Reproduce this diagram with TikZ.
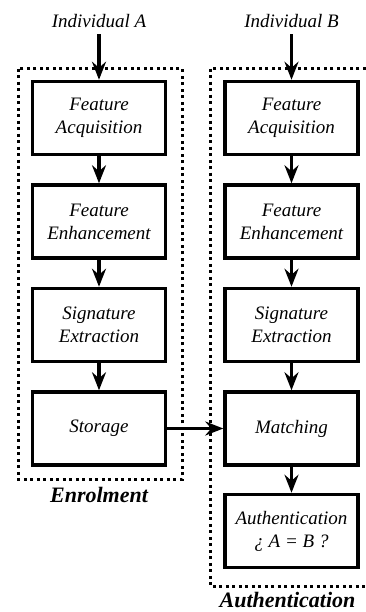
\documentclass[tikz,border=0pt]{standalone}
\usepackage{fontspec}
\setmainfont{Liberation Serif}
\newfontfamily\serfont{LiberationSerif}[Extension=.ttf, UprightFont=*-Regular,
  ItalicFont=*-Italic, BoldFont=*-Bold, BoldItalicFont=*-BoldItalic]
\usetikzlibrary{arrows.meta, positioning, calc}

\begin{document}
\begin{tikzpicture}[
      node distance=27pt,
      stage/.style={draw, line width=3.5pt, minimum width=133pt,
                    minimum height=73pt, align=center,
                    font=\fontsize{19}{23}\selectfont\serfont\itshape, inner sep=2pt},
      who/.style={font=\fontsize{19}{23}\selectfont\serfont\itshape, anchor=base,
                  inner xsep=0pt, inner ysep=6pt},
      phase/.style={font=\fontsize{22}{26}\selectfont\serfont\bfseries\itshape,
                    anchor=base, inner sep=0pt},
      dotbox/.style={line width=3pt, dash pattern=on 3pt off 3.5pt},
      arr/.style={-{Stealth[length=18pt, width=14pt, inset=6pt]}, line width=3.5pt}
    ]
      \useasboundingbox (0,0) rectangle (365pt,-612pt);

      % enrolment column
      \node[who] (indA) at (99pt,-28pt) {Individual A};
      \node[stage] (acq1) at (99pt,-118pt) {Feature\\Acquisition};
      \node[stage, below=of acq1] (enh1) {Feature\\Enhancement};
      \node[stage, below=of enh1] (sig1) {Signature\\Extraction};
      \node[stage, below=of sig1] (sto1) {Storage};

      % authentication column
      \node[who] (indB) at (291.5pt,-28pt) {Individual B};
      \node[stage] (acq2) at (291.5pt,-118pt) {Feature\\Acquisition};
      \node[stage, below=of acq2] (enh2) {Feature\\Enhancement};
      \node[stage, below=of enh2] (sig2) {Signature\\Extraction};
      \node[stage, below=of sig2] (mat2) {Matching};
      \node[stage, below=26pt of mat2] (aut2) {Authentication\\¿ A = B ?};

      % dotted frames
      \draw[dotbox] ($(acq1.north west)+(-12.5pt,11pt)$) rectangle ($(sto1.south east)+(15pt,-12.5pt)$);
      \draw[dotbox] ($(acq2.north west)+(-13pt,11pt)$) rectangle ($(aut2.south east)+(12pt,-17pt)$);
      \node[phase] (enrol) at ($(sto1.south)+(0,-36pt)$) {Enrolment};
      \node[phase] (authn) at ($(aut2.south)+(-4pt,-38pt)$) {Authentication};

      \draw[arr] (indA) -- (acq1);
      \draw[arr] (acq1) -- (enh1);
      \draw[arr] (enh1) -- (sig1);
      \draw[arr] (sig1) -- (sto1);
      \draw[arr] (indB) -- (acq2);
      \draw[arr] (acq2) -- (enh2);
      \draw[arr] (enh2) -- (sig2);
      \draw[arr] (sig2) -- (mat2);
      \draw[arr] (mat2) -- (aut2);
      \draw[arr] (sto1) -- (mat2);
    \end{tikzpicture}
\end{document}
